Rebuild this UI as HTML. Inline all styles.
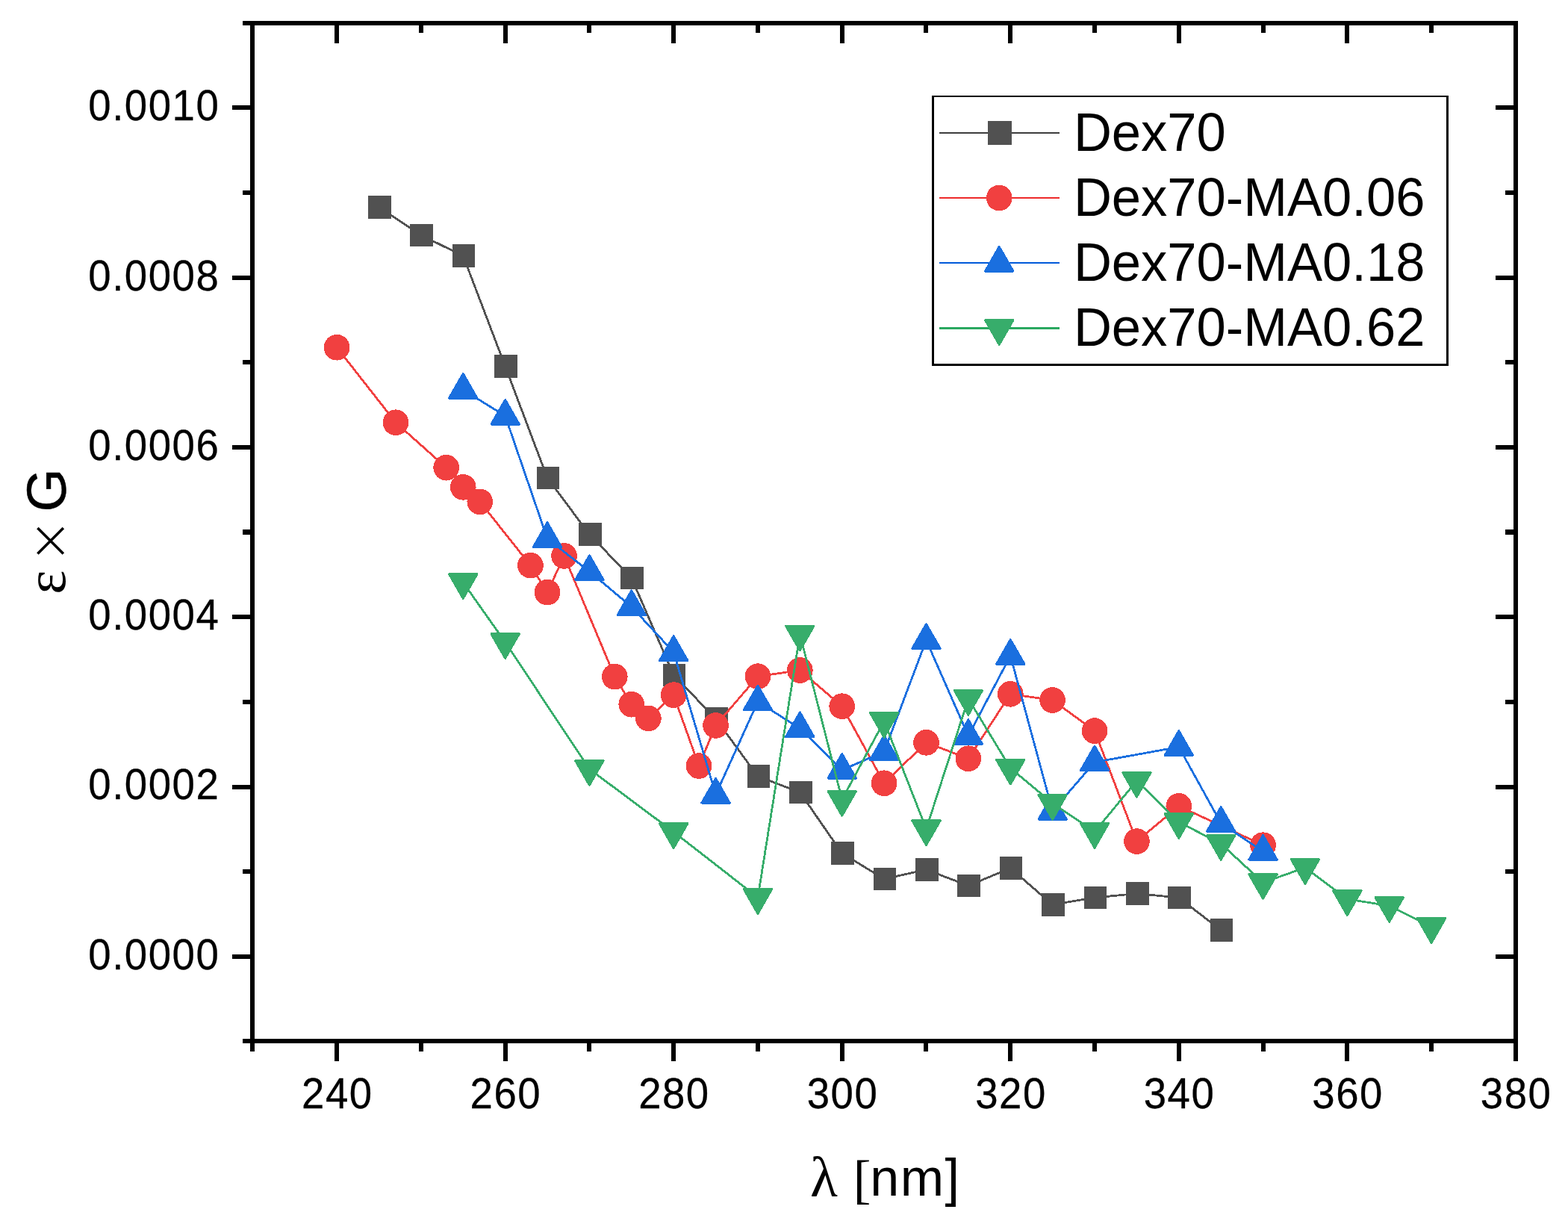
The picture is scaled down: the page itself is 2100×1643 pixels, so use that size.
<!DOCTYPE html>
<html lang="en">
<head>
<meta charset="utf-8">
<title>ε × G vs λ [nm]</title>
<style>
html,body{margin:0;padding:0;background:#fff;}
body{width:2100px;height:1643px;overflow:hidden;font-family:"Liberation Sans",sans-serif;}
svg{display:block;}
text{white-space:pre;}
</style>
</head>
<body>
<svg width="2100" height="1643" viewBox="0 0 2100 1643">
<rect x="0" y="0" width="2100" height="1643" fill="#fff"/>
<g fill="#000" shape-rendering="crispEdges">
<rect x="325" y="28" width="1708" height="6"/>
<rect x="325" y="1391" width="1708" height="6"/>
<rect x="335" y="28" width="6" height="1380"/>
<rect x="2027" y="28" width="6" height="1393"/>
<rect x="448" y="1397" width="6" height="24"/>
<rect x="448" y="34" width="6" height="24"/>
<rect x="561" y="1397" width="6" height="11"/>
<rect x="561" y="34" width="6" height="10"/>
<rect x="674" y="1397" width="6" height="24"/>
<rect x="674" y="34" width="6" height="24"/>
<rect x="786" y="1397" width="6" height="11"/>
<rect x="786" y="34" width="6" height="10"/>
<rect x="899" y="1397" width="6" height="24"/>
<rect x="899" y="34" width="6" height="24"/>
<rect x="1012" y="1397" width="6" height="11"/>
<rect x="1012" y="34" width="6" height="10"/>
<rect x="1125" y="1397" width="6" height="24"/>
<rect x="1125" y="34" width="6" height="24"/>
<rect x="1237" y="1397" width="6" height="11"/>
<rect x="1237" y="34" width="6" height="10"/>
<rect x="1350" y="1397" width="6" height="24"/>
<rect x="1350" y="34" width="6" height="24"/>
<rect x="1463" y="1397" width="6" height="11"/>
<rect x="1463" y="34" width="6" height="10"/>
<rect x="1576" y="1397" width="6" height="24"/>
<rect x="1576" y="34" width="6" height="24"/>
<rect x="1689" y="1397" width="6" height="11"/>
<rect x="1689" y="34" width="6" height="10"/>
<rect x="1801" y="1397" width="6" height="24"/>
<rect x="1801" y="34" width="6" height="24"/>
<rect x="1914" y="1397" width="6" height="11"/>
<rect x="1914" y="34" width="6" height="10"/>
<rect x="311" y="1278" width="24" height="6"/>
<rect x="2003" y="1278" width="24" height="6"/>
<rect x="325" y="1164" width="10" height="6"/>
<rect x="2016" y="1164" width="11" height="6"/>
<rect x="311" y="1051" width="24" height="6"/>
<rect x="2003" y="1051" width="24" height="6"/>
<rect x="325" y="937" width="10" height="6"/>
<rect x="2016" y="937" width="11" height="6"/>
<rect x="311" y="823" width="24" height="6"/>
<rect x="2003" y="823" width="24" height="6"/>
<rect x="325" y="709" width="10" height="7"/>
<rect x="2016" y="709" width="11" height="7"/>
<rect x="311" y="596" width="24" height="6"/>
<rect x="2003" y="596" width="24" height="6"/>
<rect x="325" y="482" width="10" height="6"/>
<rect x="2016" y="482" width="11" height="6"/>
<rect x="311" y="369" width="24" height="6"/>
<rect x="2003" y="369" width="24" height="6"/>
<rect x="325" y="255" width="10" height="6"/>
<rect x="2016" y="255" width="11" height="6"/>
<rect x="311" y="141" width="24" height="6"/>
<rect x="2003" y="141" width="24" height="6"/>
</g>
<g font-family="'Liberation Sans', sans-serif" font-size="54.6" letter-spacing="1.5" fill="#000" stroke="#000" stroke-width="0.3">
<text transform="translate(451.85 1484.4) scale(1 1.063)" text-anchor="middle">240</text>
<text transform="translate(677.39 1484.4) scale(1 1.063)" text-anchor="middle">260</text>
<text transform="translate(902.93 1484.4) scale(1 1.063)" text-anchor="middle">280</text>
<text transform="translate(1128.47 1484.4) scale(1 1.063)" text-anchor="middle">300</text>
<text transform="translate(1354.01 1484.4) scale(1 1.063)" text-anchor="middle">320</text>
<text transform="translate(1579.55 1484.4) scale(1 1.063)" text-anchor="middle">340</text>
<text transform="translate(1805.09 1484.4) scale(1 1.063)" text-anchor="middle">360</text>
<text transform="translate(2030.63 1484.4) scale(1 1.063)" text-anchor="middle">380</text>
<text transform="translate(294.3 1297.55) scale(1 1.063)" text-anchor="end">0.0000</text>
<text transform="translate(294.3 1070.29) scale(1 1.063)" text-anchor="end">0.0002</text>
<text transform="translate(294.3 843.03) scale(1 1.063)" text-anchor="end">0.0004</text>
<text transform="translate(294.3 615.77) scale(1 1.063)" text-anchor="end">0.0006</text>
<text transform="translate(294.3 388.51) scale(1 1.063)" text-anchor="end">0.0008</text>
<text transform="translate(294.3 161.25) scale(1 1.063)" text-anchor="end">0.0010</text>
</g>
<g fill="#000">
<text x="1085.1" y="1601.6" font-family="'Liberation Serif', 'DejaVu Serif', serif" font-size="76">λ</text>
<text x="1142.8" y="1602.6" font-family="'Liberation Serif', 'DejaVu Serif', serif" font-size="71">[</text>
<text x="1165.3" y="1601.0" font-family="'Liberation Sans', sans-serif" font-size="70" letter-spacing="1.5">nm]</text>
<text transform="translate(87.2 795.7) rotate(-90)" font-family="'Liberation Serif', 'DejaVu Serif', serif" font-size="77">ε</text>
<text transform="translate(89.8 754.3) rotate(-90)" font-family="'DejaVu Sans', sans-serif" font-weight="200" font-size="71.6">×</text>
<text transform="translate(87.6 685.5) rotate(-90)" font-family="'Liberation Sans', sans-serif" font-size="74.5" stroke="#000" stroke-width="0.5">G</text>
</g>
<g class="series">
<title>Dex70 series</title>
<polyline points="507.49,277.5 563.87,315 620.25,342.5 676.64,490.5 733.02,640 789.41,715.5 845.8,774 902.18,904 958.57,962.5 1014.95,1039.5 1071.34,1061 1127.72,1142.5 1184.11,1177 1240.49,1164.5 1296.88,1186 1353.26,1162.5 1409.64,1211.4 1466.03,1202 1522.41,1196.5 1578.8,1202 1635.18,1245.5" fill="none" stroke="#515151" stroke-width="2.8" stroke-linejoin="round" shape-rendering="crispEdges"/>
<rect x="493" y="262" width="31" height="31" fill="#515151" shape-rendering="crispEdges"/>
<rect x="549" y="300" width="31" height="30" fill="#515151" shape-rendering="crispEdges"/>
<rect x="606" y="327" width="30" height="31" fill="#515151" shape-rendering="crispEdges"/>
<rect x="662" y="475" width="31" height="31" fill="#515151" shape-rendering="crispEdges"/>
<rect x="719" y="625" width="30" height="30" fill="#515151" shape-rendering="crispEdges"/>
<rect x="775" y="700" width="31" height="31" fill="#515151" shape-rendering="crispEdges"/>
<rect x="831" y="759" width="31" height="30" fill="#515151" shape-rendering="crispEdges"/>
<rect x="888" y="889" width="30" height="30" fill="#515151" shape-rendering="crispEdges"/>
<rect x="944" y="947" width="31" height="31" fill="#515151" shape-rendering="crispEdges"/>
<rect x="1001" y="1024" width="30" height="31" fill="#515151" shape-rendering="crispEdges"/>
<rect x="1057" y="1046" width="31" height="30" fill="#515151" shape-rendering="crispEdges"/>
<rect x="1113" y="1127" width="31" height="31" fill="#515151" shape-rendering="crispEdges"/>
<rect x="1170" y="1162" width="30" height="30" fill="#515151" shape-rendering="crispEdges"/>
<rect x="1226" y="1149" width="31" height="31" fill="#515151" shape-rendering="crispEdges"/>
<rect x="1282" y="1171" width="31" height="30" fill="#515151" shape-rendering="crispEdges"/>
<rect x="1339" y="1147" width="30" height="31" fill="#515151" shape-rendering="crispEdges"/>
<rect x="1395" y="1196" width="31" height="31" fill="#515151" shape-rendering="crispEdges"/>
<rect x="1452" y="1187" width="30" height="30" fill="#515151" shape-rendering="crispEdges"/>
<rect x="1508" y="1181" width="31" height="31" fill="#515151" shape-rendering="crispEdges"/>
<rect x="1564" y="1187" width="31" height="30" fill="#515151" shape-rendering="crispEdges"/>
<rect x="1621" y="1230" width="30" height="31" fill="#515151" shape-rendering="crispEdges"/>
</g>
<g class="series">
<title>Dex70-MA0.06 series</title>
<polyline points="451.1,465.2 530.04,565.8 597.7,626.2 620.25,652.3 642.81,671.9 710.47,757.1 733.02,793.1 755.58,744.4 823.24,906.1 845.8,943.2 868.35,961.9 902.18,930.6 936.01,1025.5 958.57,971.4 1014.95,905.7 1071.34,897.5 1127.72,945.7 1184.11,1048.8 1240.49,994.3 1296.88,1015.8 1353.26,929.3 1409.64,937.5 1466.03,978.6 1522.41,1126.6 1578.8,1079.4 1691.57,1131.7" fill="none" stroke="#F14040" stroke-width="2.8" stroke-linejoin="round" shape-rendering="crispEdges"/>
<circle cx="451.1" cy="465.2" r="17.35" fill="#F14040" shape-rendering="crispEdges"/>
<circle cx="530.04" cy="565.8" r="17.35" fill="#F14040" shape-rendering="crispEdges"/>
<circle cx="597.7" cy="626.2" r="17.35" fill="#F14040" shape-rendering="crispEdges"/>
<circle cx="620.25" cy="652.3" r="17.35" fill="#F14040" shape-rendering="crispEdges"/>
<circle cx="642.81" cy="671.9" r="17.35" fill="#F14040" shape-rendering="crispEdges"/>
<circle cx="710.47" cy="757.1" r="17.35" fill="#F14040" shape-rendering="crispEdges"/>
<circle cx="733.02" cy="793.1" r="17.35" fill="#F14040" shape-rendering="crispEdges"/>
<circle cx="755.58" cy="744.4" r="17.35" fill="#F14040" shape-rendering="crispEdges"/>
<circle cx="823.24" cy="906.1" r="17.35" fill="#F14040" shape-rendering="crispEdges"/>
<circle cx="845.8" cy="943.2" r="17.35" fill="#F14040" shape-rendering="crispEdges"/>
<circle cx="868.35" cy="961.9" r="17.35" fill="#F14040" shape-rendering="crispEdges"/>
<circle cx="902.18" cy="930.6" r="17.35" fill="#F14040" shape-rendering="crispEdges"/>
<circle cx="936.01" cy="1025.5" r="17.35" fill="#F14040" shape-rendering="crispEdges"/>
<circle cx="958.57" cy="971.4" r="17.35" fill="#F14040" shape-rendering="crispEdges"/>
<circle cx="1014.95" cy="905.7" r="17.35" fill="#F14040" shape-rendering="crispEdges"/>
<circle cx="1071.34" cy="897.5" r="17.35" fill="#F14040" shape-rendering="crispEdges"/>
<circle cx="1127.72" cy="945.7" r="17.35" fill="#F14040" shape-rendering="crispEdges"/>
<circle cx="1184.11" cy="1048.8" r="17.35" fill="#F14040" shape-rendering="crispEdges"/>
<circle cx="1240.49" cy="994.3" r="17.35" fill="#F14040" shape-rendering="crispEdges"/>
<circle cx="1296.88" cy="1015.8" r="17.35" fill="#F14040" shape-rendering="crispEdges"/>
<circle cx="1353.26" cy="929.3" r="17.35" fill="#F14040" shape-rendering="crispEdges"/>
<circle cx="1409.64" cy="937.5" r="17.35" fill="#F14040" shape-rendering="crispEdges"/>
<circle cx="1466.03" cy="978.6" r="17.35" fill="#F14040" shape-rendering="crispEdges"/>
<circle cx="1522.41" cy="1126.6" r="17.35" fill="#F14040" shape-rendering="crispEdges"/>
<circle cx="1578.8" cy="1079.4" r="17.35" fill="#F14040" shape-rendering="crispEdges"/>
<circle cx="1691.57" cy="1131.7" r="17.35" fill="#F14040" shape-rendering="crispEdges"/>
</g>
<g class="series">
<title>Dex70-MA0.18 series</title>
<polyline points="620.25,522 676.64,557 733.02,721.3 789.41,765.3 845.8,812.5 902.18,873.3 958.57,1064 1014.95,939.6 1071.34,975.4 1127.72,1031 1184.11,1006.6 1240.49,857.3 1296.88,985.3 1353.26,878.1 1409.64,1086 1466.03,1020.6 1578.8,1000.2 1635.18,1102.2 1691.57,1140" fill="none" stroke="#1A6FDF" stroke-width="2.8" stroke-linejoin="round" shape-rendering="crispEdges"/>
<polygon points="620.25,500.5 638.96,533.1 601.55,533.1" fill="#1A6FDF" stroke="#1A6FDF" stroke-width="3" stroke-linejoin="round" shape-rendering="crispEdges"/>
<polygon points="676.64,535.5 695.34,568.1 657.94,568.1" fill="#1A6FDF" stroke="#1A6FDF" stroke-width="3" stroke-linejoin="round" shape-rendering="crispEdges"/>
<polygon points="733.02,699.8 751.73,732.4 714.32,732.4" fill="#1A6FDF" stroke="#1A6FDF" stroke-width="3" stroke-linejoin="round" shape-rendering="crispEdges"/>
<polygon points="789.41,743.8 808.11,776.4 770.71,776.4" fill="#1A6FDF" stroke="#1A6FDF" stroke-width="3" stroke-linejoin="round" shape-rendering="crispEdges"/>
<polygon points="845.8,791 864.5,823.6 827.1,823.6" fill="#1A6FDF" stroke="#1A6FDF" stroke-width="3" stroke-linejoin="round" shape-rendering="crispEdges"/>
<polygon points="902.18,851.8 920.88,884.4 883.48,884.4" fill="#1A6FDF" stroke="#1A6FDF" stroke-width="3" stroke-linejoin="round" shape-rendering="crispEdges"/>
<polygon points="958.57,1042.5 977.27,1075.1 939.87,1075.1" fill="#1A6FDF" stroke="#1A6FDF" stroke-width="3" stroke-linejoin="round" shape-rendering="crispEdges"/>
<polygon points="1014.95,918.1 1033.65,950.7 996.25,950.7" fill="#1A6FDF" stroke="#1A6FDF" stroke-width="3" stroke-linejoin="round" shape-rendering="crispEdges"/>
<polygon points="1071.34,953.9 1090.04,986.5 1052.63,986.5" fill="#1A6FDF" stroke="#1A6FDF" stroke-width="3" stroke-linejoin="round" shape-rendering="crispEdges"/>
<polygon points="1127.72,1009.5 1146.42,1042.1 1109.02,1042.1" fill="#1A6FDF" stroke="#1A6FDF" stroke-width="3" stroke-linejoin="round" shape-rendering="crispEdges"/>
<polygon points="1184.11,985.1 1202.81,1017.7 1165.4,1017.7" fill="#1A6FDF" stroke="#1A6FDF" stroke-width="3" stroke-linejoin="round" shape-rendering="crispEdges"/>
<polygon points="1240.49,835.8 1259.19,868.4 1221.79,868.4" fill="#1A6FDF" stroke="#1A6FDF" stroke-width="3" stroke-linejoin="round" shape-rendering="crispEdges"/>
<polygon points="1296.88,963.8 1315.58,996.4 1278.17,996.4" fill="#1A6FDF" stroke="#1A6FDF" stroke-width="3" stroke-linejoin="round" shape-rendering="crispEdges"/>
<polygon points="1353.26,856.6 1371.96,889.2 1334.56,889.2" fill="#1A6FDF" stroke="#1A6FDF" stroke-width="3" stroke-linejoin="round" shape-rendering="crispEdges"/>
<polygon points="1409.64,1064.5 1428.35,1097.1 1390.94,1097.1" fill="#1A6FDF" stroke="#1A6FDF" stroke-width="3" stroke-linejoin="round" shape-rendering="crispEdges"/>
<polygon points="1466.03,999.1 1484.73,1031.7 1447.33,1031.7" fill="#1A6FDF" stroke="#1A6FDF" stroke-width="3" stroke-linejoin="round" shape-rendering="crispEdges"/>
<polygon points="1578.8,978.7 1597.5,1011.3 1560.1,1011.3" fill="#1A6FDF" stroke="#1A6FDF" stroke-width="3" stroke-linejoin="round" shape-rendering="crispEdges"/>
<polygon points="1635.18,1080.7 1653.88,1113.3 1616.48,1113.3" fill="#1A6FDF" stroke="#1A6FDF" stroke-width="3" stroke-linejoin="round" shape-rendering="crispEdges"/>
<polygon points="1691.57,1118.5 1710.27,1151.1 1672.87,1151.1" fill="#1A6FDF" stroke="#1A6FDF" stroke-width="3" stroke-linejoin="round" shape-rendering="crispEdges"/>
</g>
<g class="series">
<title>Dex70-MA0.62 series</title>
<polyline points="620.25,779.9 676.64,859.9 789.41,1029.8 902.18,1113.9 1014.95,1201.8 1071.34,849.4 1127.72,1070.7 1184.11,965.6 1240.49,1110 1296.88,935.7 1353.26,1028.5 1409.64,1075.5 1466.03,1113.7 1522.41,1045.6 1578.8,1100.8 1635.18,1129.8 1691.57,1181.8 1747.95,1161.8 1804.34,1204 1860.72,1212.8 1917.11,1240.8" fill="none" stroke="#37AD6B" stroke-width="2.8" stroke-linejoin="round" shape-rendering="crispEdges"/>
<polygon points="620.25,801.4 638.96,768.8 601.55,768.8" fill="#37AD6B" stroke="#37AD6B" stroke-width="3" stroke-linejoin="round" shape-rendering="crispEdges"/>
<polygon points="676.64,881.4 695.34,848.8 657.94,848.8" fill="#37AD6B" stroke="#37AD6B" stroke-width="3" stroke-linejoin="round" shape-rendering="crispEdges"/>
<polygon points="789.41,1051.3 808.11,1018.7 770.71,1018.7" fill="#37AD6B" stroke="#37AD6B" stroke-width="3" stroke-linejoin="round" shape-rendering="crispEdges"/>
<polygon points="902.18,1135.4 920.88,1102.8 883.48,1102.8" fill="#37AD6B" stroke="#37AD6B" stroke-width="3" stroke-linejoin="round" shape-rendering="crispEdges"/>
<polygon points="1014.95,1223.3 1033.65,1190.7 996.25,1190.7" fill="#37AD6B" stroke="#37AD6B" stroke-width="3" stroke-linejoin="round" shape-rendering="crispEdges"/>
<polygon points="1071.34,870.9 1090.04,838.3 1052.63,838.3" fill="#37AD6B" stroke="#37AD6B" stroke-width="3" stroke-linejoin="round" shape-rendering="crispEdges"/>
<polygon points="1127.72,1092.2 1146.42,1059.6 1109.02,1059.6" fill="#37AD6B" stroke="#37AD6B" stroke-width="3" stroke-linejoin="round" shape-rendering="crispEdges"/>
<polygon points="1184.11,987.1 1202.81,954.5 1165.4,954.5" fill="#37AD6B" stroke="#37AD6B" stroke-width="3" stroke-linejoin="round" shape-rendering="crispEdges"/>
<polygon points="1240.49,1131.5 1259.19,1098.9 1221.79,1098.9" fill="#37AD6B" stroke="#37AD6B" stroke-width="3" stroke-linejoin="round" shape-rendering="crispEdges"/>
<polygon points="1296.88,957.2 1315.58,924.6 1278.17,924.6" fill="#37AD6B" stroke="#37AD6B" stroke-width="3" stroke-linejoin="round" shape-rendering="crispEdges"/>
<polygon points="1353.26,1050 1371.96,1017.4 1334.56,1017.4" fill="#37AD6B" stroke="#37AD6B" stroke-width="3" stroke-linejoin="round" shape-rendering="crispEdges"/>
<polygon points="1409.64,1097 1428.35,1064.4 1390.94,1064.4" fill="#37AD6B" stroke="#37AD6B" stroke-width="3" stroke-linejoin="round" shape-rendering="crispEdges"/>
<polygon points="1466.03,1135.2 1484.73,1102.6 1447.33,1102.6" fill="#37AD6B" stroke="#37AD6B" stroke-width="3" stroke-linejoin="round" shape-rendering="crispEdges"/>
<polygon points="1522.41,1067.1 1541.12,1034.5 1503.71,1034.5" fill="#37AD6B" stroke="#37AD6B" stroke-width="3" stroke-linejoin="round" shape-rendering="crispEdges"/>
<polygon points="1578.8,1122.3 1597.5,1089.7 1560.1,1089.7" fill="#37AD6B" stroke="#37AD6B" stroke-width="3" stroke-linejoin="round" shape-rendering="crispEdges"/>
<polygon points="1635.18,1151.3 1653.88,1118.7 1616.48,1118.7" fill="#37AD6B" stroke="#37AD6B" stroke-width="3" stroke-linejoin="round" shape-rendering="crispEdges"/>
<polygon points="1691.57,1203.3 1710.27,1170.7 1672.87,1170.7" fill="#37AD6B" stroke="#37AD6B" stroke-width="3" stroke-linejoin="round" shape-rendering="crispEdges"/>
<polygon points="1747.95,1183.3 1766.65,1150.7 1729.25,1150.7" fill="#37AD6B" stroke="#37AD6B" stroke-width="3" stroke-linejoin="round" shape-rendering="crispEdges"/>
<polygon points="1804.34,1225.5 1823.04,1192.9 1785.64,1192.9" fill="#37AD6B" stroke="#37AD6B" stroke-width="3" stroke-linejoin="round" shape-rendering="crispEdges"/>
<polygon points="1860.72,1234.3 1879.42,1201.7 1842.02,1201.7" fill="#37AD6B" stroke="#37AD6B" stroke-width="3" stroke-linejoin="round" shape-rendering="crispEdges"/>
<polygon points="1917.11,1262.3 1935.81,1229.7 1898.41,1229.7" fill="#37AD6B" stroke="#37AD6B" stroke-width="3" stroke-linejoin="round" shape-rendering="crispEdges"/>
</g>
<rect x="1248" y="128" width="692" height="362" fill="#fff"/>
<g fill="#000" shape-rendering="crispEdges">
<rect x="1248" y="128" width="692" height="2"/>
<rect x="1248" y="487" width="692" height="3"/>
<rect x="1248" y="128" width="3" height="362"/>
<rect x="1937" y="128" width="3" height="362"/>
</g>
<rect x="1258" y="177" width="161" height="2" fill="#3d3d3d" shape-rendering="crispEdges"/>
<rect x="1323" y="162" width="32" height="32" fill="#515151" shape-rendering="crispEdges"/>
<text transform="translate(1437.9 201.6) scale(1 1.028)" font-family="'Liberation Sans', sans-serif" font-size="70.55" fill="#000">Dex70</text>
<rect x="1258" y="264" width="161" height="2" fill="#EE2A2A" shape-rendering="crispEdges"/>
<circle cx="1338.2" cy="265" r="17.35" fill="#F14040" shape-rendering="crispEdges"/>
<text transform="translate(1437.9 288.6) scale(1 1.028)" font-family="'Liberation Sans', sans-serif" font-size="70.55" fill="#000">Dex70-MA0.06</text>
<rect x="1258" y="351" width="161" height="2" fill="#0059D9" shape-rendering="crispEdges"/>
<polygon points="1338.2,330.5 1356.9,363.1 1319.5,363.1" fill="#1A6FDF" stroke="#1A6FDF" stroke-width="3" stroke-linejoin="round" shape-rendering="crispEdges"/>
<text transform="translate(1437.9 375.6) scale(1 1.028)" font-family="'Liberation Sans', sans-serif" font-size="70.55" fill="#000">Dex70-MA0.18</text>
<rect x="1258" y="438" width="161" height="3" fill="#2AA860" shape-rendering="crispEdges"/>
<polygon points="1338.2,461.3 1356.9,428.7 1319.5,428.7" fill="#37AD6B" stroke="#37AD6B" stroke-width="3" stroke-linejoin="round" shape-rendering="crispEdges"/>
<text transform="translate(1437.9 463.4) scale(1 1.028)" font-family="'Liberation Sans', sans-serif" font-size="70.55" fill="#000">Dex70-MA0.62</text>
</svg>
</body>
</html>
